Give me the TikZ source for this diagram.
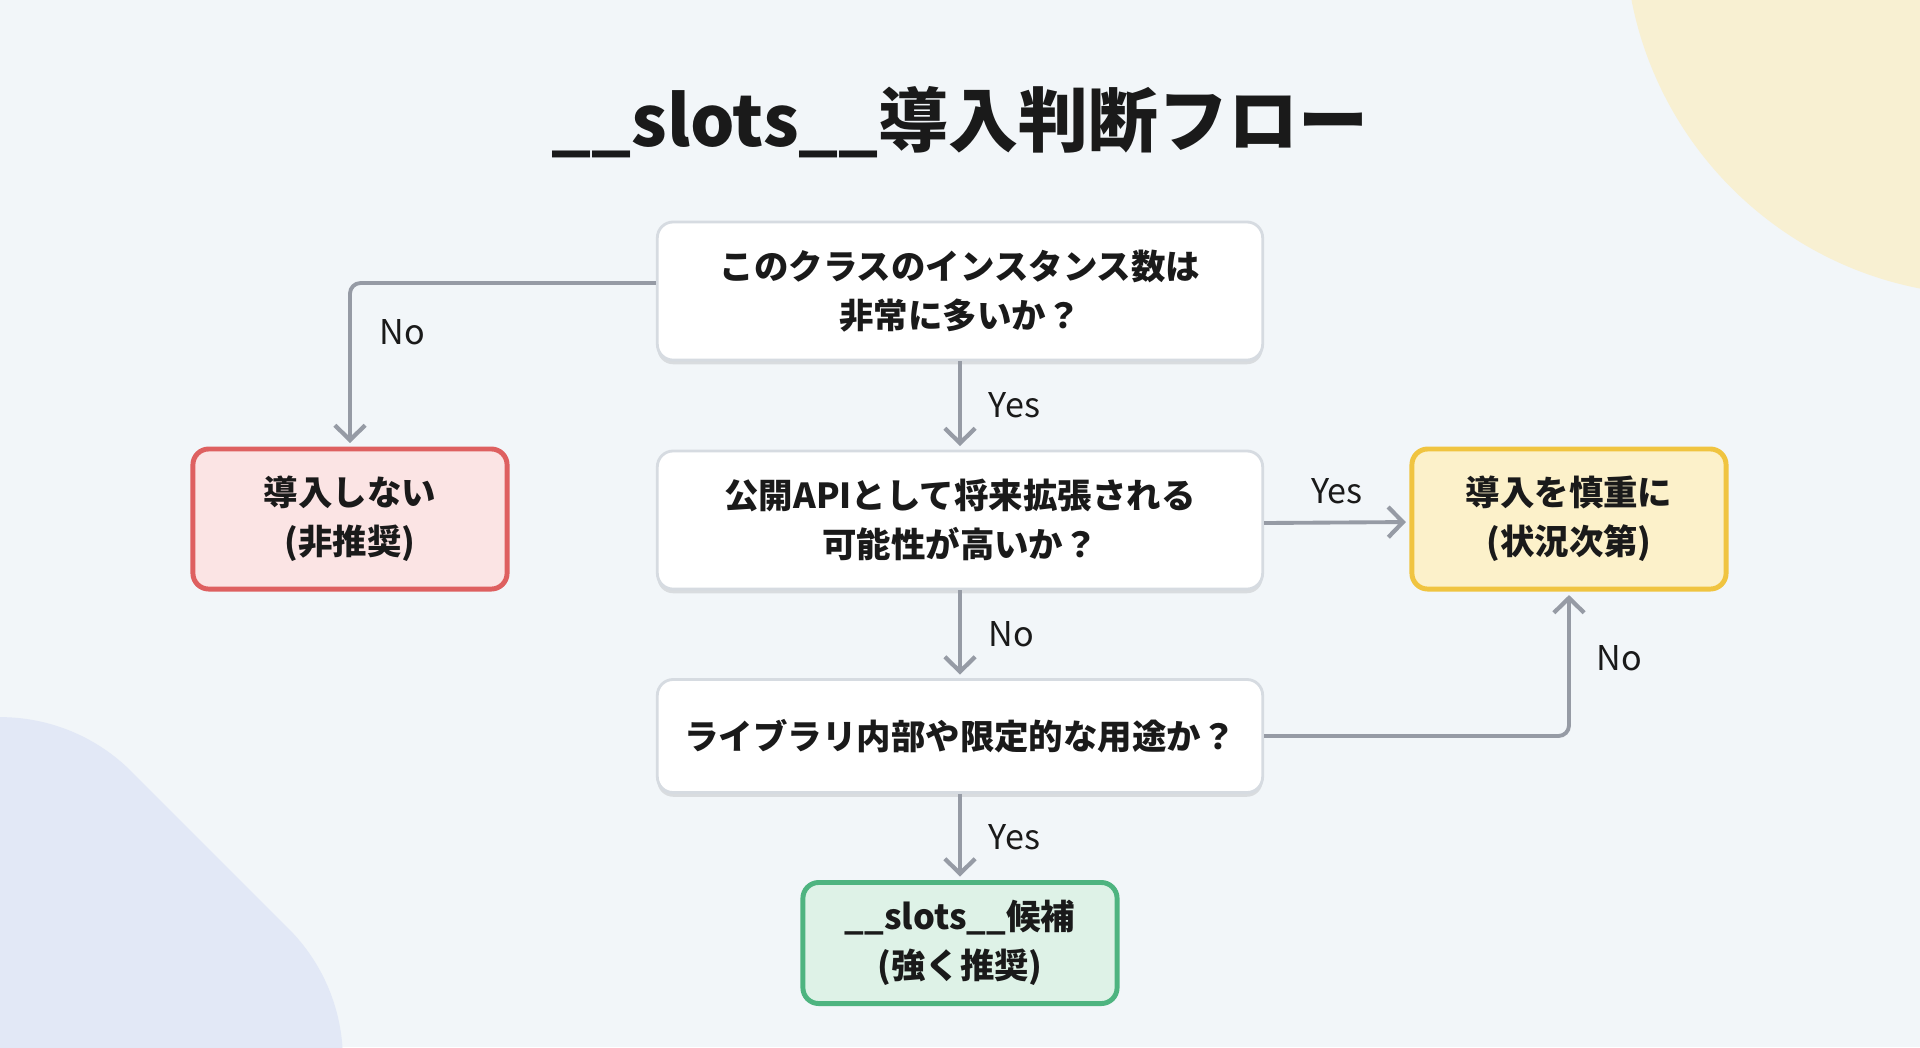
\documentclass[tikz,border=0pt]{standalone}
\usepackage{fontspec}
\setmainfont{Noto Sans CJK JP}
\usetikzlibrary{
	positioning
	,arrows.meta
	,shadows
}
\definecolor{bgcol}{RGB}{242,246,249}
\definecolor{blobyellow}{RGB}{248,240,210}
\definecolor{blobblue}{RGB}{226,232,246}
\definecolor{linecol}{RGB}{150,155,165}
\definecolor{textcol}{RGB}{26,26,26}
\definecolor{qborder}{RGB}{214,219,225}
\definecolor{nofill}{RGB}{251,228,228}
\definecolor{nodraw}{RGB}{222,96,96}
\definecolor{maybefill}{RGB}{252,241,202}
\definecolor{maybedraw}{RGB}{240,196,64}
\definecolor{yesfill}{RGB}{222,242,231}
\definecolor{yesdraw}{RGB}{78,180,128}
\tikzset{
	>={Straight Barb[length=4.2pt,width=8.6pt,line width=1.2pt]}
	,box node/.style={
		rectangle,
		rounded corners=4.5pt,
		align=center,
		text=textcol,
		inner sep=0mm,
		font=\fontsize{9.8}{14}\selectfont\bfseries,
	}
	,question/.style={
		box node,
		draw=qborder,
		line width=0.8pt,
		fill=white,
		minimum width=6.05cm,
		minimum height=1.38cm,
		drop shadow={shadow xshift=0pt, shadow yshift=-1.2pt, opacity=0.10, fill=black},
	}
	,result/.style={
		box node,
		line width=1.4pt,
		minimum width=3.14cm,
		minimum height=1.40cm,
	}
	,flow/.style={
		->,
		draw=linecol,
		line width=1.1pt,
		rounded corners=3pt,
		shorten >=1pt,
	}
	,flow label/.style={
		text=textcol,
		font=\fontsize{9.7}{12}\selectfont,
		inner sep=0pt,
	}
}

\begin{document}
\begin{tikzpicture}[x=0.01cm,y=-0.01cm]
	\useasboundingbox (0,0) rectangle (1920,1047);
	\fill[bgcol] (0,0) rectangle (1920,1047);
	% corner shapes
	\begin{scope}
		\clip (0,0) rectangle (1920,1047);
		\fill[blobyellow] (1990,-70) circle[radius=3.65cm];
		\fill[blobblue, rounded corners=1.86cm] (0,640) -- (420,1060) -- (0,1480) -- (-420,1060) -- cycle;
	\end{scope}
	
	\node[text=textcol, anchor=base, font=\fontsize{19.9}{24}\selectfont\bfseries] (title) at (960,146) {\_\_slots\_\_導入判断フロー};
	
	\node[question] (q1) at (960,291) {このクラスのインスタンス数は\\非常に多いか？};
	\node[question] (q2) at (960,520) {公開APIとして将来拡張される\\可能性が高いか？};
	\node[question, minimum height=1.13cm] (q3) at (960,736) {ライブラリ内部や限定的な用途か？};
	
	\node[result, draw=nodraw, fill=nofill] (no) at (350,519) {導入しない\\(非推奨)};
	\node[result, draw=maybedraw, fill=maybefill] (maybe) at (1569,519) {導入を慎重に\\(状況次第)};
	\node[result, draw=yesdraw, fill=yesfill, minimum height=1.21cm] (yes) at (960,943) {\_\_slots\_\_候補\\(強く推奨)};
	
	\foreach \a/\b/\t in {
		q1/q2/Yes,q2/q3/No,q3/yes/Yes%
	}{
		\draw[flow] (\a) -- node[flow label, right=0.27cm]{\t} (\b);
	}
	\draw[flow] ([yshift=0.08cm]q1.west) -| node[flow label, pos=0.65, right=0.28cm]{No} (no.north);
	\draw[flow] ([yshift=-0.03cm]q2.east) -- node[flow label, above=0.17cm]{Yes} ([yshift=-0.03cm]maybe.west);
	\draw[flow] (q3.east) -| node[flow label, pos=0.77, right=0.26cm]{No} (maybe.south);
\end{tikzpicture}
\end{document}
